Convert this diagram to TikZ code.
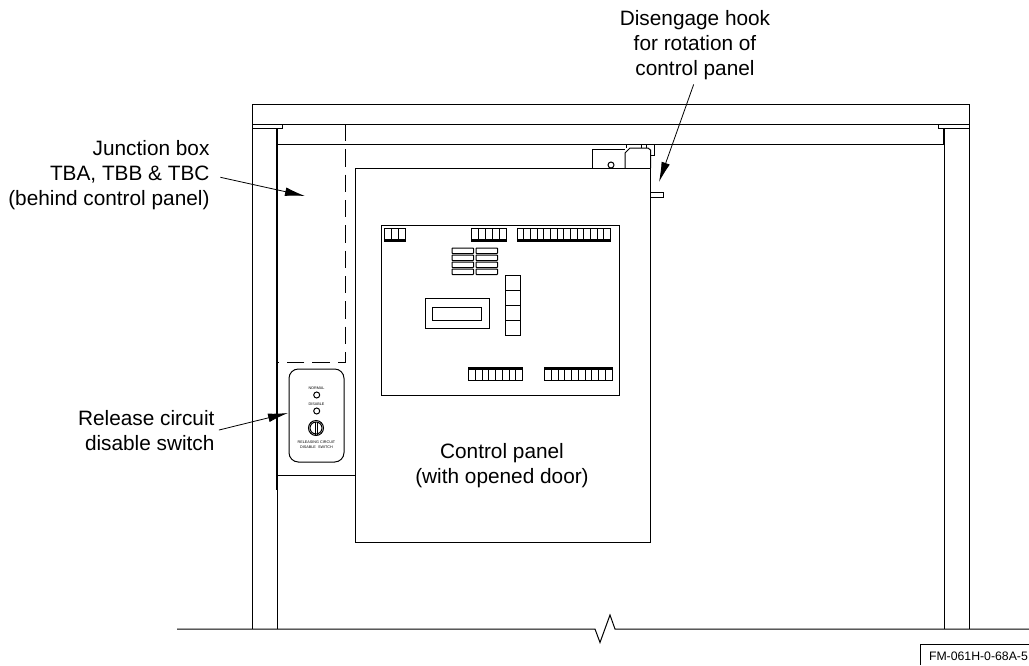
\documentclass[tikz,border=0pt]{standalone}
\usepackage{fontspec}
\usepackage{tikz}
\usetikzlibrary{arrows.meta}
\setmainfont{Liberation Sans}

\tikzset{
    leader/.style={line width=0.6pt,-{Latex[length=15pt,width=6.5pt]}},
    callout/.style={inner sep=0pt,font=\fontsize{15.6}{18.75}\selectfont},
    platetext/.style={inner sep=0pt,align=center,font=\fontsize{2.8}{3.8}\selectfont},
}

\begin{document}
\begin{tikzpicture}[x=0.75pt,y=-0.75pt,line width=0.75pt]
        \useasboundingbox (0,0) rectangle (1029,665);
        \draw (252,629) -- (252,104) -- (969,104) -- (969,629);
        \draw (252,124) -- (969,124);
        \draw (252,128) -- (282,128) -- (282,124);
        \draw (969,128) -- (938,128) -- (938,124);
        \draw (277,144) -- (944,144);
        \draw[line width=1.5pt] (277,128) -- (277,490);
        \draw (277,490) -- (277,629);
        \draw[line width=1.5pt] (944,128) -- (944,144);
        \draw (944,144) -- (944,629);
        \draw[dash pattern=on 13pt off 6pt] (345,124) -- (345,362) -- (277,362);
        \draw (177,629) -- (595,629) -- (600,642.5) -- (610,615) -- (615,629) -- (1029,629);

        \draw (355,168) rectangle (650.5,542);
        \draw (277,475) -- (355,475);
        \draw (592,168) -- (592,149) -- (625,149);
        \draw (625,168) -- (625,153) -- (630,148) -- (648,148) -- (650.5,150) -- (650.5,168);
        \draw (611,165) circle (3);
        \foreach \x in {626,641,646}
            \draw (\x,144) -- (\x,148);
        \draw (654,144) -- (654,155) -- (650.5,155);
        \draw (650.5,192) -- (663,192) -- (663,197) -- (650.5,197);

        \draw (381.5,225) rectangle (619,395);
        \foreach \xa/\xb/\cells in {384/405.5/3, 471.5/506/5, 517/610.5/14} {
            \draw (\xa,228) rectangle (\xb,241);
            \draw[line width=1.3pt] (\xa,240) -- (\xb,240);
            \foreach \i in {1,...,\cells}
                \draw ({\xa+(\xb-\xa)*\i/\cells},228) -- ({\xa+(\xb-\xa)*\i/\cells},240);
        }
        \foreach \xa/\xb/\cells in {468.5/522.5/8, 544.5/612/10} {
            \draw (\xa,367.5) rectangle (\xb,380);
            \draw[line width=1.6pt] (\xa,368.5) -- (\xb,368.5);
            \foreach \i in {1,...,\cells}
                \draw ({\xa+(\xb-\xa)*\i/\cells},368) -- ({\xa+(\xb-\xa)*\i/\cells},380);
        }
        \foreach \x in {452,476}
            \foreach \y in {248,255,262,269}
                \draw[rounded corners=0.5pt] (\x,\y) rectangle (\x+21.5,\y+5.5);
        \draw (425,298.5) rectangle (489,328);
        \draw (432.5,307.5) rectangle (481.5,320);
        \foreach \y in {275,290,305,320}
            \draw (505.5,\y) rectangle (520,\y+15);

        \draw[rounded corners=7pt] (289,369) rectangle (344,462);
        \draw (316.7,395) circle (3);
        \draw (316.7,411) circle (3);
        \draw (316,428) circle (7.5);
        \draw (316,428) circle (6);
        \draw (315,422) -- (315,435);
        \draw (317,422) -- (317,435);
        \node[platetext] (normal) at (316.5,388) {NORMAL};
        \node[platetext] (disable) at (316.5,404) {DISABLE};
        \node[platetext] (release) at (316.5,444.5) {RELEASING CIRCUIT\\DISABLE\ \ SWITCH};

        \coordinate (hooktip) at (659,182);
        \coordinate (boxtip) at (305,196);
        \coordinate (switchtip) at (288,413);
        \node[callout,align=center] (hooklabel) at (695,45.5) {Disengage hook\\for rotation of\\control panel};
        \node[callout,align=right,anchor=east] (boxlabel) at (210,175) {Junction box\\TBA, TBB \& TBC\\(behind control panel)};
        \node[callout,align=right,anchor=east] (switchlabel) at (215,431) {Release circuit\\disable switch};
        \node[callout,align=center] (panellabel) at (502,466) {Control panel\\(with opened door)};
        \draw[leader,shorten <=3pt] (hooklabel.south) -- (hooktip);
        \draw[leader,shorten <=8pt] (boxlabel.east) -- (boxtip);
        \draw[leader,shorten <=3pt] (switchlabel.east) -- (switchtip);

        \draw (920,665) -- (920,644) -- (1029,644);
        \node[inner sep=0pt,anchor=west,font=\fontsize{9.2}{11}\selectfont] (stamp) at (928.5,656) {FM-061H-0-68A-5};
    \end{tikzpicture}
\end{document}
